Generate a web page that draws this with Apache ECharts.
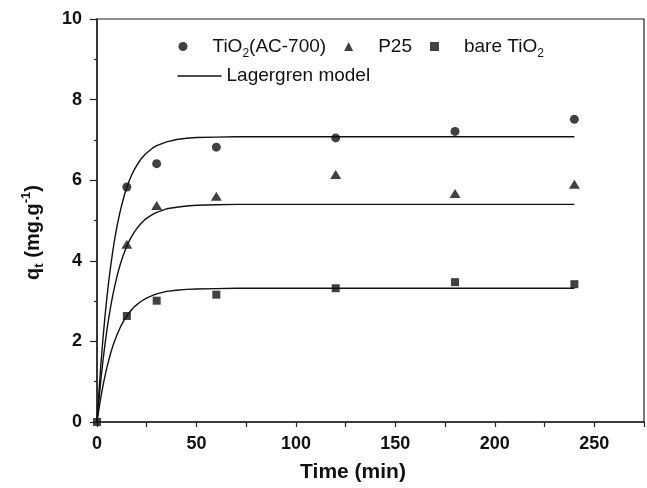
<!DOCTYPE html>
<html>
<head>
<meta charset="utf-8">
<script src="https://cdn.jsdelivr.net/npm/echarts@6/dist/echarts.min.js"></script>
<style>
html,body{margin:0;padding:0;background:#fff;}
#chart{width:647px;height:488px;}
</style>
</head>
<body>
<div id="chart"></div>
<script>
// Measured time points (min)
const timePoints = [15, 30, 60, 120, 180, 240];
const acValues   = [5.83, 6.41, 6.82, 7.05, 7.21, 7.51];   // TiO2(AC-700)
const p25Values  = [4.41, 5.37, 5.60, 6.14, 5.67, 5.90];   // P25
const bareValues = [2.63, 3.01, 3.16, 3.32, 3.47, 3.42];   // bare TiO2
const originPoint = [0, 0];

// Lagergren model curves
const modelTime = [0, 1, 2, 3, 4, 5, 6, 7, 8, 9, 10, 11, 12, 13, 14, 15, 16, 17, 18, 19, 20,
                   22, 24, 26, 28, 30, 35, 40, 45, 50, 60, 70, 80, 120, 180, 240];
const acModel   = [0, 0.77, 1.46, 2.07, 2.61, 3.10, 3.53, 3.91, 4.26, 4.57, 4.84, 5.08, 5.30, 5.49, 5.67, 5.82, 5.96, 6.08, 6.19, 6.28, 6.37,
                   6.52, 6.63, 6.72, 6.80, 6.86, 6.95, 7.01, 7.04, 7.06, 7.07, 7.08, 7.08, 7.08, 7.08, 7.08];
const p25Model  = [0, 0.56, 1.07, 1.52, 1.92, 2.29, 2.61, 2.90, 3.16, 3.39, 3.60, 3.79, 3.96, 4.11, 4.24, 4.36, 4.47, 4.57, 4.65, 4.73, 4.80,
                   4.92, 5.02, 5.09, 5.15, 5.20, 5.29, 5.33, 5.36, 5.38, 5.39, 5.40, 5.40, 5.40, 5.40, 5.40];
const bareModel = [0, 0.33, 0.63, 0.90, 1.14, 1.36, 1.55, 1.73, 1.89, 2.03, 2.16, 2.27, 2.38, 2.47, 2.56, 2.63, 2.70, 2.76, 2.82, 2.87, 2.91,
                   2.99, 3.05, 3.10, 3.14, 3.18, 3.24, 3.27, 3.29, 3.30, 3.31, 3.32, 3.32, 3.32, 3.32, 3.32];

const xTickLabels = [0, 50, 100, 150, 200, 250];
const yTickLabels = [0, 2, 4, 6, 8, 10];

const FONT = 'Liberation Sans, Arial, Helvetica, sans-serif';
const INK = '#111';

function pairs(xs, ys) { return xs.map((x, i) => [x, ys[i]]); }

const chart = echarts.init(document.getElementById('chart'), null, {renderer: 'canvas'});

const legendRich = {
  sp: {width: 20},
  n: {fontFamily: FONT, fontSize: 19, lineHeight: 26, color: INK},
  s: {fontFamily: FONT, fontSize: 12, lineHeight: 12, verticalAlign: 'bottom', color: INK}
};

function modelSeries(values) {
  return {
    name: 'Lagergren model', type: 'line', data: pairs(modelTime, values),
    smooth: false, showSymbol: false, symbol: 'none',
    lineStyle: {color: INK, width: 1.4}, itemStyle: {color: INK}, z: 2
  };
}

const option = {
  animation: false,
  backgroundColor: '#fff',
  grid: {
    left: 97, right: 1, top: 19, bottom: 59,
    show: true, borderColor: '#222', borderWidth: 1.2, containLabel: false
  },
  legend: [
    {
      data: ['TiO2(AC-700)', 'P25', 'bare TiO2'],
      left: 178.5, top: 37, padding: 0, itemGap: 18,
      itemWidth: 9, itemHeight: 9, orient: 'horizontal',
      formatter: function (name) {
        if (name === 'TiO2(AC-700)') return '{sp|}{n|TiO}{s|2}{n|(AC-700)}';
        if (name === 'bare TiO2') return '{sp|}{n|bare TiO}{s|2}';
        return '{sp|}{n|' + name + '}';
      },
      textStyle: {fontFamily: FONT, fontSize: 19, color: INK, rich: legendRich}
    },
    {
      data: [{name: 'Lagergren model', icon: 'rect'}],
      left: 177.5, top: 63, padding: 0,
      itemWidth: 44, itemHeight: 1.5,
      textStyle: {fontFamily: FONT, fontSize: 19, lineHeight: 26, color: INK}
    }
  ],
  xAxis: {
    type: 'value', min: 0, max: 275, interval: 25,
    name: 'Time (min)', nameLocation: 'middle', nameGap: 40,
    nameTextStyle: {fontFamily: FONT, fontSize: 21, fontWeight: 'bold', color: INK, padding: [0, 35, 0, 0]},
    axisLine: {show: true, lineStyle: {color: '#222', width: 1.5}},
    axisTick: {show: true, length: 5, lineStyle: {color: '#222', width: 1.2}},
    axisLabel: {
      margin: 13, fontFamily: FONT, fontSize: 18, fontWeight: 'bold', color: INK,
      formatter: function (v) { return xTickLabels.indexOf(v) >= 0 ? String(v) : ''; }
    },
    splitLine: {show: false}
  },
  yAxis: {
    type: 'value', min: 0, max: 10, interval: 2,
    name: '{b|q}{sub|t}{b| (mg.g}{sup|-1}{b|)}', nameLocation: 'middle', nameGap: 51,
    nameTextStyle: {
      fontFamily: FONT, fontSize: 20, fontWeight: 'bold', color: INK, padding: [0, 24, 0, 0],
      rich: {
        b: {fontFamily: FONT, fontSize: 20, fontWeight: 'bold', lineHeight: 26, color: INK},
        sub: {fontFamily: FONT, fontSize: 13, fontWeight: 'bold', lineHeight: 13, verticalAlign: 'bottom', color: INK},
        sup: {fontFamily: FONT, fontSize: 13, fontWeight: 'bold', lineHeight: 13, verticalAlign: 'top', color: INK}
      }
    },
    axisLine: {show: true, lineStyle: {color: '#222', width: 1.5}},
    axisTick: {show: true, length: 7, lineStyle: {color: '#222', width: 1.2}},
    minorTick: {show: true, splitNumber: 2, length: 3, lineStyle: {color: '#222', width: 1.2}},
    axisLabel: {
      margin: 15, fontFamily: FONT, fontSize: 18, fontWeight: 'bold', color: INK,
      formatter: function (v) { return yTickLabels.indexOf(v) >= 0 ? String(v) : ''; }
    },
    splitLine: {show: false}
  },
  series: [
    modelSeries(acModel),
    modelSeries(p25Model),
    modelSeries(bareModel),
    {
      name: 'TiO2(AC-700)', type: 'scatter', symbol: 'circle', symbolSize: 9,
      data: pairs(timePoints, acValues), itemStyle: {color: INK}, z: 3
    },
    {
      name: 'P25', type: 'scatter', symbol: 'triangle', symbolSize: [11, 9],
      data: pairs(timePoints, p25Values), itemStyle: {color: INK}, z: 3
    },
    {
      name: 'bare TiO2', type: 'scatter', symbol: 'rect', symbolSize: 8,
      data: [originPoint].concat(pairs(timePoints, bareValues)), itemStyle: {color: INK}, z: 3
    }
  ]
};

chart.setOption(option);
</script>
</body>
</html>
